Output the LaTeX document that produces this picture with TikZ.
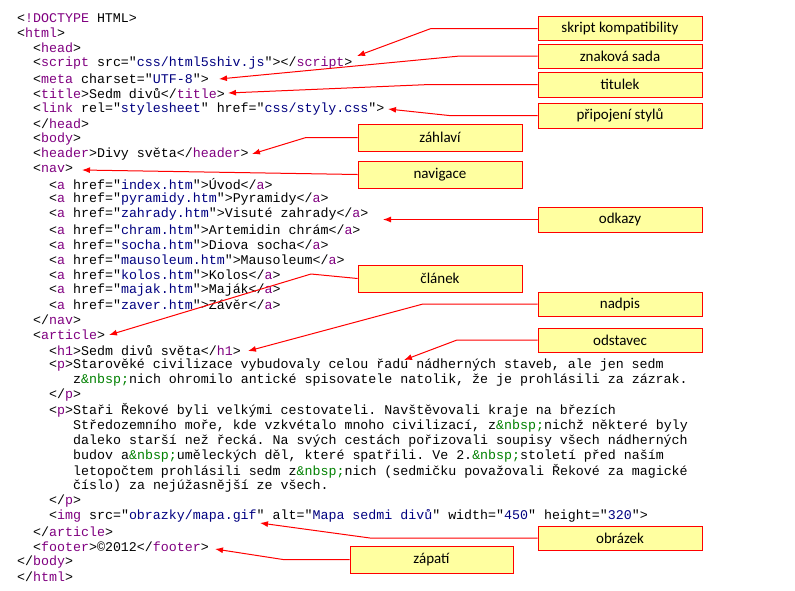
\documentclass[tikz,border=0pt]{standalone}
\usepackage{fontspec}
\setmainfont{Carlito}
\setmonofont{Liberation Mono}
\usetikzlibrary{arrows.meta}
\definecolor{tagc}{HTML}{800080}
\definecolor{valc}{HTML}{000080}
\definecolor{nbc}{HTML}{008000}
\definecolor{boxfill}{HTML}{FFFFA0}
\newcommand{\tg}[1]{<\textcolor{tagc}{#1}>}
\newcommand{\ct}[1]{</\textcolor{tagc}{#1}>}
\newcommand{\vl}[1]{"\textcolor{valc}{#1}"}
\newcommand{\nb}{\textcolor{nbc}{\&nbsp;}}
\tikzset{
  code/.style={anchor=west, inner sep=0pt, font=\ttfamily\fontsize{13.3}{15}\selectfont},
  lbl/.style={draw=red, fill=boxfill, line width=0.8pt, minimum width=164pt, minimum height=25pt, inner sep=0pt, font=\fontsize{15}{17}\selectfont},
  arr/.style={red, line width=1pt, -{Latex[length=8pt,width=6pt]}}
}
\begin{document}
\begin{tikzpicture}[x=1pt, y=-1pt]
  \useasboundingbox (0,0) rectangle (795,590);
  % listing
  \node[code] (l0) at (17,18) {<\textcolor{tagc}{!DOCTYPE} HTML>};
  \node[code] (l1) at (17,33.1) {\tg{html}};
  \node[code] (l2) at (33,48.2) {\tg{head}};
  \node[code] (l3) at (33,63.3) {<\textcolor{tagc}{script} src=\vl{css/html5shiv.js}>\ct{script}};
  \node[code] (l4) at (33,78.4) {<\textcolor{tagc}{meta} charset=\vl{UTF-8}>};
  \node[code] (l5) at (33,93.5) {\tg{title}Sedm divů\ct{title}};
  \node[code] (l6) at (33,108.6) {<\textcolor{tagc}{link} rel=\vl{stylesheet} href=\vl{css/styly.css}>};
  \node[code] (l7) at (33,123.7) {\ct{head}};
  \node[code] (l8) at (33,138.8) {\tg{body}};
  \node[code] (l9) at (33,153.9) {\tg{header}Divy světa\ct{header}};
  \node[code] (l10) at (33,169) {\tg{nav}};
  \node[code] (l11) at (49,184.1) {<\textcolor{tagc}{a} href=\vl{index.htm}>Úvod\ct{a}};
  \node[code] (l12) at (49,199.2) {<\textcolor{tagc}{a} href=\vl{pyramidy.htm}>Pyramidy\ct{a}};
  \node[code] (l13) at (49,214.3) {<\textcolor{tagc}{a} href=\vl{zahrady.htm}>Visuté zahrady\ct{a}};
  \node[code] (l14) at (49,229.4) {<\textcolor{tagc}{a} href=\vl{chram.htm}>Artemidin chrám\ct{a}};
  \node[code] (l15) at (49,244.5) {<\textcolor{tagc}{a} href=\vl{socha.htm}>Diova socha\ct{a}};
  \node[code] (l16) at (49,259.6) {<\textcolor{tagc}{a} href=\vl{mausoleum.htm}>Mausoleum\ct{a}};
  \node[code] (l17) at (49,274.7) {<\textcolor{tagc}{a} href=\vl{kolos.htm}>Kolos\ct{a}};
  \node[code] (l18) at (49,289.8) {<\textcolor{tagc}{a} href=\vl{majak.htm}>Maják\ct{a}};
  \node[code] (l19) at (49,304.9) {<\textcolor{tagc}{a} href=\vl{zaver.htm}>Závěr\ct{a}};
  \node[code] (l20) at (33,320) {\ct{nav}};
  \node[code] (l21) at (33,335.1) {\tg{article}};
  \node[code] (l22) at (49,350.2) {\tg{h1}Sedm divů světa\ct{h1}};
  \node[code] (l23) at (49,365.3) {\tg{p}Starověké civilizace vybudovaly celou řadu nádherných staveb, ale jen sedm};
  \node[code] (l24) at (73,380.4) {z\nb nich ohromilo antické spisovatele natolik, že je prohlásili za zázrak.};
  \node[code] (l25) at (49,395.5) {\ct{p}};
  \node[code] (l26) at (49,410.6) {\tg{p}Staři Řekové byli velkými cestovateli. Navštěvovali kraje na březích};
  \node[code] (l27) at (73,425.7) {Středozemního moře, kde vzkvétalo mnoho civilizací, z\nb nichž některé byly};
  \node[code] (l28) at (73,440.8) {daleko starší než řecká. Na svých cestách pořizovali soupisy všech nádherných};
  \node[code] (l29) at (73,455.9) {budov a\nb uměleckých děl, které spatřili. Ve 2.\nb století před naším};
  \node[code] (l30) at (73,471) {letopočtem prohlásili sedm z\nb nich (sedmičku považovali Řekové za magické};
  \node[code] (l31) at (73,486.1) {číslo) za nejúžasnější ze všech.};
  \node[code] (l32) at (49,501.2) {\ct{p}};
  \node[code] (l33) at (49,516.3) {<\textcolor{tagc}{img} src=\vl{obrazky/mapa.gif} alt=\vl{Mapa sedmi divů} width=\vl{450} height=\vl{320}>};
  \node[code] (l34) at (33,531.4) {\ct{article}};
  \node[code] (l35) at (33,546.5) {\tg{footer}©2012\ct{footer}};
  \node[code] (l36) at (17,561.6) {\ct{body}};
  \node[code] (l37) at (17,576.7) {\ct{html}};
  % labels
  \node[lbl, minimum height=24pt] (skript) at (620,28.5) {skript kompatibility};
  \node[lbl, minimum height=24pt] (sada) at (620,56) {znaková sada};
  \node[lbl] (titulek) at (620,84.5) {titulek};
  \node[lbl] (styly) at (620,115.5) {připojení stylů};
  \node[lbl, minimum height=27pt] (zahlavi) at (440,137.5) {záhlaví};
  \node[lbl, minimum height=27pt] (navigace) at (440,174.5) {navigace};
  \node[lbl] (odkazy) at (620,219.5) {odkazy};
  \node[lbl, minimum height=27pt] (clanek) at (440,278.5) {článek};
  \node[lbl, minimum height=24pt] (nadpis) at (620,304) {nadpis};
  \node[lbl, minimum height=24pt] (odstavec) at (620,340) {odstavec};
  \node[lbl, minimum height=24pt] (obrazek) at (620,538) {obrázek};
  \node[lbl, minimum height=27pt, minimum width=163pt] (zapati) at (431.5,559.5) {zápatí};
  % arrow ends
  \coordinate (tskript) at (357,56);
  \coordinate (tsada) at (219,79);
  \coordinate (ttitulek) at (228,93);
  \coordinate (tstyly) at (388,109);
  \coordinate (tzahlavi) at (252,154);
  \coordinate (tnavigace) at (82,170);
  \coordinate (todkazy) at (383,219.5);
  \coordinate (tclanek) at (109,335);
  \coordinate (tnadpis) at (248,351);
  \coordinate (todstavec) at (404,360);
  \coordinate (tobrazek) at (260,523);
  \coordinate (tzapati) at (215,549);
  % arrows
  \draw[arr] (skript.west) -- (431,28.5) -- (tskript);
  \draw[arr] (sada.west) -- (460,56) -- (tsada);
  \draw[arr] (titulek.west) -- (430,84.5) -- (ttitulek);
  \draw[arr] (styly.west) -- (449,115.5) -- (tstyly);
  \draw[arr] (zahlavi.west) -- (306,137.5) -- (tzahlavi);
  \draw[arr] (navigace.west) -- (tnavigace);
  \draw[arr] (odkazy.west) -- (todkazy);
  \draw[arr] (clanek.west) -- (311,274) -- (tclanek);
  \draw[arr] (nadpis.west) -- (423,304) -- (tnadpis);
  \draw[arr] (odstavec.west) -- (457,340) -- (todstavec);
  \draw[arr] (obrazek.west) -- (370,538) -- (tobrazek);
  \draw[arr] (zapati.west) -- (283,559.5) -- (tzapati);
\end{tikzpicture}
\end{document}
